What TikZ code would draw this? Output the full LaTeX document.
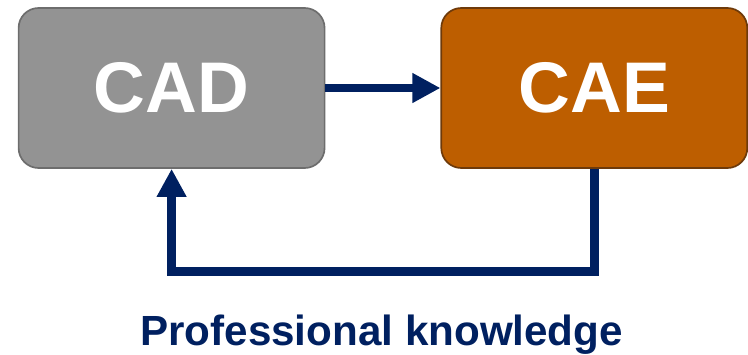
\documentclass[tikz,border=0pt]{standalone}
\usepackage{fontspec}
\setmainfont{Liberation Sans}
\usepackage{xcolor}
\usepackage{tikz}
\usetikzlibrary{arrows.meta,positioning,calc}

\definecolor{cadgray}{HTML}{939393}
\definecolor{cadedge}{HTML}{6D6D6D}
\definecolor{caeorange}{HTML}{BD5E00}
\definecolor{caeedge}{HTML}{6E3A0A}
\definecolor{navy}{HTML}{002060}

\begin{document}
\begin{tikzpicture}[
    node distance=2.875cm,
    toolbox/.style={rectangle, draw, rounded corners=0.5cm, line width=1.2pt, minimum width=7.65cm, minimum height=4cm, text=white, font=\fontsize{51}{60}\selectfont\bfseries},
    flow/.style={draw=navy, line width=6.2pt, -{Triangle[length=0.7cm, width=0.7cm]}},
]
    \useasboundingbox (0,0) rectangle (18.7,8.85);

    \node[toolbox, fill=cadgray, draw=cadedge] (cad) at (4.29,6.65) {CAD};
    \node[toolbox, fill=caeorange, draw=caeedge, right=of cad] (cae) {CAE};
    \node[anchor=base, text=navy, font=\fontsize{30}{36}\selectfont\bfseries] (know) at (9.54,0.225) {Professional knowledge};

    \coordinate (back) at ($(cad.south)+(0,-2.575)$);
    \draw[flow] (cad) -- (cae);
    \draw[flow] (cae.south) |- (back) -- (cad.south);
\end{tikzpicture}
\end{document}
